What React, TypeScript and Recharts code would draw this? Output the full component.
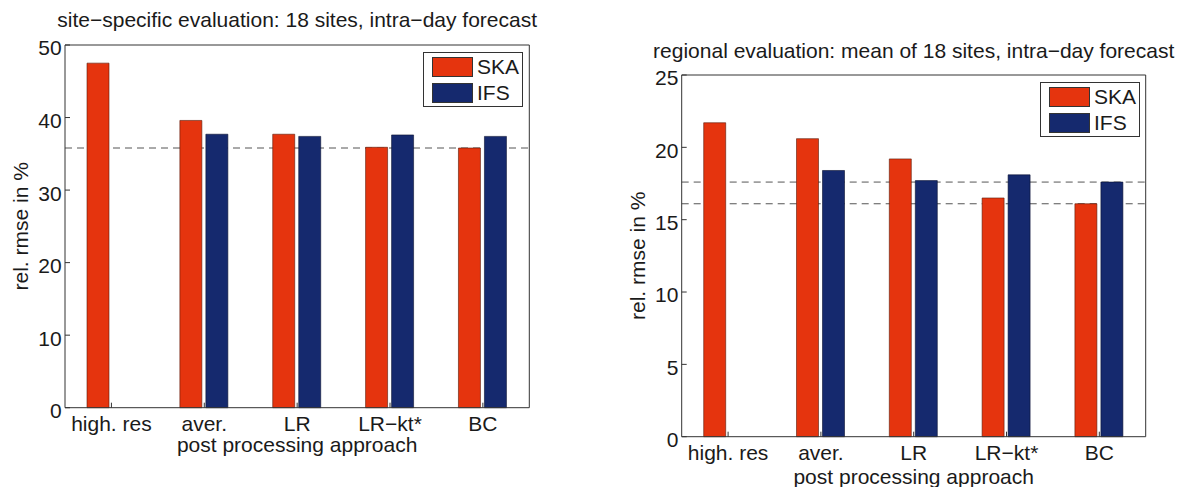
import React from 'react';
import { BarChart, Bar, XAxis, YAxis, ReferenceLine, Legend } from 'recharts';

// categories on the x axis (both panels)
const categories = ['high. res', 'aver.', 'LR', 'LR−kt*', 'BC'];

// left panel: site-specific evaluation (rel. rmse in %)
const siteSKA = [47.5, 39.6, 37.7, 35.9, 35.8];
const siteIFS = [null, 37.7, 37.4, 37.6, 37.4];
const siteTicks = [0, 10, 20, 30, 40, 50];
const siteRefLines = [35.8];

// right panel: regional evaluation (rel. rmse in %)
const regSKA = [21.7, 20.6, 19.2, 16.5, 16.1];
const regIFS = [null, 18.4, 17.7, 18.1, 17.6];
const regTicks = [0, 5, 10, 15, 20, 25];
const regRefLines = [17.6, 16.1];

const seriesNames = ['SKA', 'IFS'];

const FONT = '"Liberation Sans", Arial, Helvetica, sans-serif';
const RED = '#e5340e';
const BLUE = '#15296e';
const INK = '#1a1a1a';
const AXIS = '#333';

const buildRows = (ska: (number | null)[], ifs: (number | null)[]) =>
  categories.map((category, i) => ({ category, SKA: ska[i], IFS: ifs[i] }));

const LegendBox = () => (
  <div
    style={{
      width: 100,
      height: 55,
      boxSizing: 'border-box',
      border: `1px solid ${AXIS}`,
      background: '#fff',
      padding: '4px 0 0 8px',
      fontFamily: FONT,
      fontSize: 21,
      color: INK,
    }}
  >
    {seriesNames.map((name, i) => (
      <div key={name} style={{ display: 'flex', alignItems: 'center', height: 20, marginBottom: 6 }}>
        <span
          style={{
            width: 41,
            height: 20,
            boxSizing: 'border-box',
            border: '1px solid #333',
            background: i === 0 ? RED : BLUE,
            marginRight: 4,
          }}
        />
        <span style={{ lineHeight: '20px' }}>{name}</span>
      </div>
    ))}
  </div>
);

interface PanelProps {
  title: string;
  ska: (number | null)[];
  ifs: (number | null)[];
  ticks: number[];
  refLines: number[];
  width: number;
  top: number;
  right: number;
  bottom: number;
  yWidth: number;
  legendLeft: number;
  legendTop: number;
  yLabelX: number;
  xLabelOffset: number;
  titleOffset: number;
}

const tickStyle = { fill: INK, fontSize: 21, fontFamily: FONT };

const Panel = (p: PanelProps) => {
  const rows = buildRows(p.ska, p.ifs);
  const max = p.ticks[p.ticks.length - 1];
  return (
    <BarChart
      width={p.width}
      height={487}
      data={rows}
      // top/right are reduced by 1px for the 1px mirror axes that close the box
      margin={{ top: p.top - 1, right: p.right - 1, bottom: p.bottom, left: 0 }}
      barSize={22}
      barGap={4}
    >
      <XAxis
        dataKey="category"
        height={30}
        stroke={AXIS}
        tickSize={-5}
        tickMargin={13.5}
        tick={tickStyle}
        interval={0}
        label={{
          value: 'post processing approach',
          position: 'bottom',
          offset: p.xLabelOffset,
          fill: INK,
          fontSize: 21,
          fontFamily: FONT,
        }}
      />
      <XAxis
        xAxisId="top"
        orientation="top"
        dataKey="category"
        height={1}
        stroke={AXIS}
        tickSize={-5}
        tick={false}
        interval={0}
        label={{
          value: p.title,
          position: 'top',
          offset: p.titleOffset,
          fill: INK,
          fontSize: 21,
          fontFamily: FONT,
        }}
      />
      <YAxis
        domain={[0, max]}
        ticks={p.ticks}
        width={p.yWidth}
        stroke={AXIS}
        tickSize={-5}
        tickMargin={8.3}
        tick={{ ...tickStyle, dy: 3 }}
        label={{
          value: 'rel. rmse in %',
          angle: -90,
          position: 'insideLeft',
          offset: p.yLabelX,
          fill: INK,
          fontSize: 21,
          fontFamily: FONT,
          style: { textAnchor: 'middle' },
        }}
      />
      <YAxis
        yAxisId="right"
        orientation="right"
        domain={[0, max]}
        ticks={p.ticks}
        width={1}
        stroke={AXIS}
        tickSize={-5}
        tick={false}
      />
      {p.refLines.map((v) => (
        <ReferenceLine key={v} y={v} stroke="#555" strokeDasharray="7 5" zIndex={250} />
      ))}
      <Bar dataKey="SKA" fill={RED} stroke="#5a1a08" strokeWidth={0.6} isAnimationActive={false} />
      <Bar dataKey="IFS" fill={BLUE} stroke="#0a1030" strokeWidth={0.6} isAnimationActive={false} />
      <Legend
        layout="horizontal"
        verticalAlign="middle"
        align="center"
        width={100}
        height={55}
        wrapperStyle={{ left: p.legendLeft, top: p.legendTop }}
        content={() => <LegendBox />}
      />
    </BarChart>
  );
};

export default function App() {
  return (
    <div style={{ position: 'absolute', left: 0, top: 0, width: 1195, height: 487, background: '#fff' }}>
      <div style={{ position: 'absolute', left: 0, top: 0 }}>
        <Panel
          title="site−specific evaluation: 18 sites, intra−day forecast"
          ska={siteSKA}
          ifs={siteIFS}
          ticks={siteTicks}
          refLines={siteRefLines}
          width={597}
          top={45}
          right={67.7}
          bottom={49.3}
          yWidth={65}
          legendLeft={423}
          legendTop={52}
          yLabelX={21}
          xLabelOffset={-0.7}
          titleOffset={16.7}
        />
      </div>
      <div style={{ position: 'absolute', left: 597, top: 0 }}>
        <Panel
          title="regional evaluation: mean of 18 sites, intra−day forecast"
          ska={regSKA}
          ifs={regIFS}
          ticks={regTicks}
          refLines={regRefLines}
          width={598}
          top={75}
          right={49.3}
          bottom={20.3}
          yWidth={84.7}
          legendLeft={443}
          legendTop={82}
          yLabelX={41}
          xLabelOffset={2.6}
          titleOffset={15.7}
        />
      </div>
    </div>
  );
}
